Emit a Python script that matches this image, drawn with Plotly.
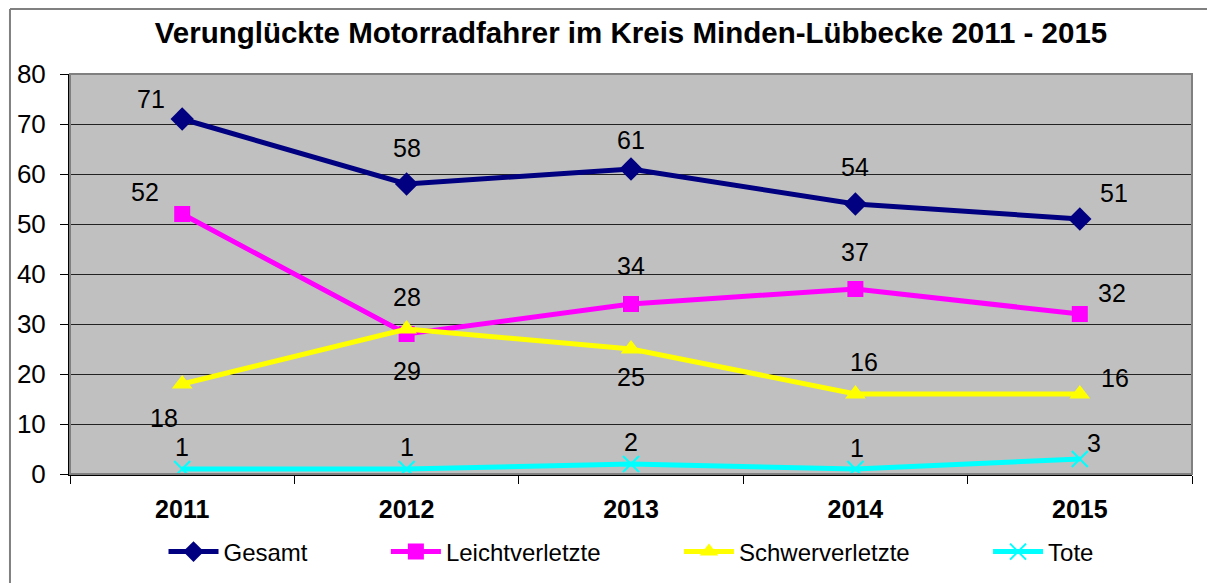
import plotly.graph_objects as go

years = ["2011", "2012", "2013", "2014", "2015"]
gesamt = [71, 58, 61, 54, 51]
leicht = [52, 28, 34, 37, 32]
schwer = [18, 29, 25, 16, 16]
tote = [1, 1, 2, 1, 3]

series = [
    ("Gesamt", gesamt, "#000080", "diamond", 18),
    ("Leichtverletzte", leicht, "#FF00FF", "square", 16),
    ("Schwerverletzte", schwer, "#FFFF00", "triangle-up", 18),
    ("Tote", tote, "#00FFFF", "x-thin", 16),
]

# label pixel offsets (style only)
offsets = {
    "Gesamt": [(-31, 20), (0, 36), (0, 29), (0, 37), (34, 26)],
    "Leichtverletzte": [(-37, 22), (0, 37), (0, 38), (0, 37), (32, 21)],
    "Schwerverletzte": [(-18, -34), (0, -42), (0, -28), (9, 32), (35, 16)],
    "Tote": [(0, 22), (0, 22), (0, 22), (2, 21), (14, 16)],
}
pad = "&nbsp;" * 11

FONT = "Liberation Sans, Arial, sans-serif"
fig = go.Figure()
for k, (name, vals, col, sym, sz) in enumerate(series):
    marker = dict(symbol=sym, size=sz, color=col)
    if sym == "x-thin":
        marker = dict(symbol=sym, size=sz, color=col, line=dict(color=col, width=2))
    fig.add_trace(go.Scatter(
        x=years, y=vals, name=name + (pad if k < len(series) - 1 else ""),
        mode="lines+markers", line=dict(color=col, width=5), marker=marker,
    ))

annotations = []
for name, vals, col, sym, sz in series:
    for i, v in enumerate(vals):
        dx, dy = offsets[name][i]
        annotations.append(dict(
            x=i, y=v, xref="x", yref="y", text=str(v), showarrow=False,
            xshift=dx, yshift=dy, font=dict(family=FONT, size=25, color="black"),
        ))

fig.update_layout(
    width=1207, height=575,
    margin=dict(l=62, r=23, t=66, b=109, autoexpand=False),
    paper_bgcolor="white", plot_bgcolor="#C0C0C0",
    title=dict(text="<b>Verunglückte Motorradfahrer im Kreis Minden-Lübbecke 2011 - 2015</b>",
               x=0.5, xref="paper", xanchor="center", y=0.9565, yanchor="middle",
               font=dict(family=FONT, size=29.5, color="black")),
    font=dict(family=FONT, size=24, color="black"),
    showlegend=True,
    legend=dict(orientation="h", x=0.5, xanchor="center", y=0.0539, yanchor="middle",
                xref="paper", yref="container", font=dict(family=FONT, size=24, color="black"),
                bgcolor="rgba(0,0,0,0)", itemwidth=50, traceorder="normal"),
    annotations=annotations,
    shapes=[
        dict(type="rect", xref="paper", yref="paper", x0=0, x1=1, y0=0, y1=1,
             line=dict(color="#808080", width=2), layer="above"),
        dict(type="line", xref="paper", yref="paper", x0=-0.0535, x1=-0.0535, y0=1.1625, y1=-0.3,
             line=dict(color="#808080", width=2)),
        dict(type="line", xref="paper", yref="paper", x0=-0.0535, x1=1.03, y0=1.1625, y1=1.1625,
             line=dict(color="#808080", width=2)),
    ],
)
fig.update_xaxes(
    type="category", range=[-0.5, 4.5], showgrid=False, automargin=False,
    ticks="outside", tickson="boundaries", ticklen=8, tickcolor="black", tickwidth=1,
    showline=True, linecolor="black", linewidth=2, mirror=False,
    tickfont=dict(family=FONT, size=25, color="black"), ticklabelstandoff=12,
    tickprefix="<b>", ticksuffix="</b>",
)
fig.update_yaxes(
    range=[0, 80], dtick=10, showgrid=True, gridcolor="#222222", gridwidth=1, automargin=False,
    ticks="outside", ticklen=8, tickcolor="black", tickwidth=1,
    showline=True, linecolor="black", linewidth=2, zeroline=False,
    tickfont=dict(family=FONT, size=26, color="black"), ticklabelstandoff=9,
)
fig.write_html("out.html")
